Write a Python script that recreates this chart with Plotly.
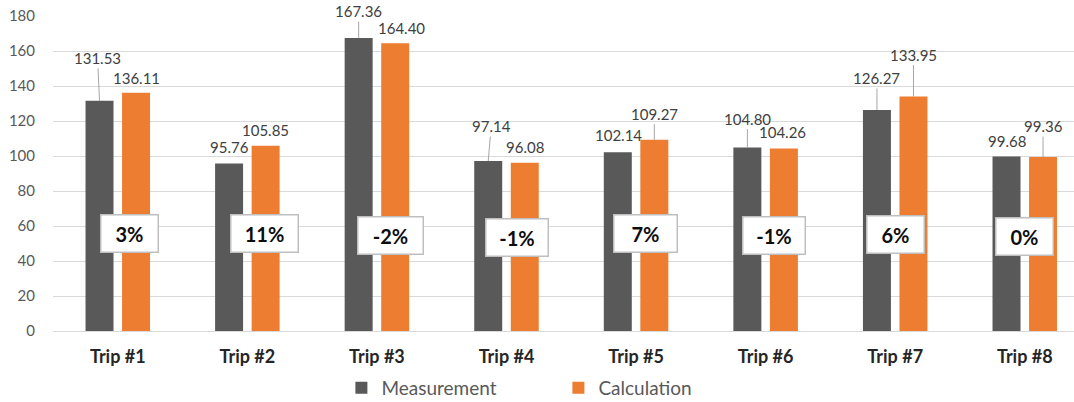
import plotly.graph_objects as go

# ---- data ----
trips = ["Trip #1", "Trip #2", "Trip #3", "Trip #4", "Trip #5", "Trip #6", "Trip #7", "Trip #8"]
measurement = [131.53, 95.76, 167.36, 97.14, 102.14, 104.80, 126.27, 99.68]
calculation = [136.11, 105.85, 164.40, 96.08, 109.27, 104.26, 133.95, 99.36]
diff_labels = ["3%", "11%", "-2%", "-1%", "7%", "-1%", "6%", "0%"]
y_ticks = [0, 20, 40, 60, 80, 100, 120, 140, 160, 180]

# ---- styles ----
GRAY = "#595959"
ORANGE = "#ED7D31"
FONT = "Lato"
BARGAP = 0.436
GROUPGAP = 0.234
# label offsets in px (dx, dy, leader line) relative to bar top
meas_lbl = [(-2, -43, True), (0, -16, False), (0, -27, True), (3, -35, True),
            (1, -17, False), (0, -29, True), (0, -32, True), (0, -16, False)]
calc_lbl = [(0, -15, False), (0, -16, False), (6, -15, False), (0, -16, False),
            (0, -26, True), (-1, -17, False), (0, -42, True), (0, -31, True)]
# percentage box style: (dx px, dy px, width px)
box_style = [(12, 0, 56), (17, 0, 66), (14, -2, 64), (10, -4, 61),
             (9, 0, 62), (8, -2, 61), (0, -1, 56), (0, -3, 56)]
BOX_Y = 56  # data height of box row

fig = go.Figure()
fig.add_trace(go.Bar(x=trips, y=measurement, name="Measurement",
                     marker=dict(color=GRAY, line=dict(width=0))))
fig.add_trace(go.Bar(x=trips, y=calculation, name="Calculation",
                     marker=dict(color=ORANGE, line=dict(width=0))))

slot = (1 - BARGAP) / 2
offs = [-slot / 2, slot / 2]

annotations = []
for s, (vals, lbls) in enumerate([(measurement, meas_lbl), (calculation, calc_lbl)]):
    for i, v in enumerate(vals):
        dx, dy, line = lbls[i]
        annotations.append(dict(
            x=i + offs[s], y=v, xref="x", yref="y",
            text=f"{v:.2f}", showarrow=True, arrowhead=0, arrowwidth=1,
            arrowcolor="#a6a6a6" if line else "rgba(0,0,0,0)",
            ax=dx, ay=dy, axref="pixel", ayref="pixel", standoff=0,
            font=dict(family=FONT, size=15, color="#404040"),
        ))

for i, t in enumerate(diff_labels):
    dx, dy, w = box_style[i]
    annotations.append(dict(
        x=i, y=BOX_Y, xref="x", yref="y", xshift=dx, yshift=dy,
        text=t, showarrow=False, width=w, height=36, align="center",
        bgcolor="white", bordercolor="#bfbfbf", borderwidth=1.5, borderpad=0,
        font=dict(family=FONT, size=20, color="#0d0d0d", weight="bold"),
    ))

fig.update_layout(
    width=1074, height=402,
    margin=dict(l=53, r=0, t=15.5, b=71),
    paper_bgcolor="white", plot_bgcolor="white",
    barmode="group", bargap=BARGAP, bargroupgap=GROUPGAP,
    font=dict(family=FONT, color=GRAY),
    annotations=annotations,
    showlegend=True,
    legend=dict(orientation="h", x=0.495, xanchor="center",
                yref="container", y=1 - 388 / 402, yanchor="middle",
                font=dict(family=FONT, size=19, color=GRAY),
                entrywidth=172, entrywidthmode="pixels",
                itemclick=False, bgcolor="rgba(0,0,0,0)"),
)
fig.update_xaxes(range=[-0.5, -0.5 + 1021 / 129.57], showline=True, linecolor="#d9d9d9",
                 linewidth=1, ticks="", showgrid=False,
                 tickfont=dict(family=FONT, size=18, color="#262626", weight="bold"),
                 ticklabelstandoff=9)
fig.update_yaxes(range=[0, 180], tickvals=y_ticks, showgrid=True, gridcolor="#d9d9d9",
                 gridwidth=1, zeroline=False, ticks="", showline=False,
                 tickfont=dict(family=FONT, size=15, color=GRAY),
                 ticklabelstandoff=17)

fig.write_html("out.html")
